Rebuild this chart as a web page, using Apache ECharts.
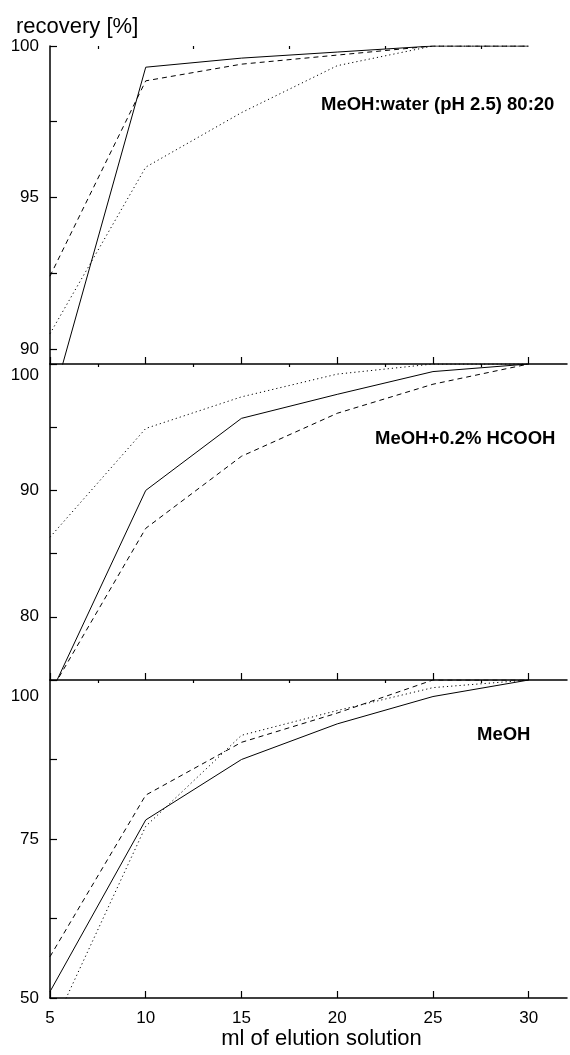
<!DOCTYPE html>
<html>
<head>
<meta charset="utf-8">
<script src="https://cdn.jsdelivr.net/npm/echarts@6/dist/echarts.min.js"></script>
<style>
  html, body { margin: 0; padding: 0; background: #fff; }
  #chart { width: 570px; height: 1055px; }
</style>
</head>
<body>
<div id="chart"></div>
<script>
// elution volume (ml)
const mlElution = [5, 10, 15, 20, 25, 30];
const xMajorTicks = [5, 10, 15, 20, 25, 30];
const xMinorTicks = [7.5, 12.5, 17.5, 22.5, 27.5];

// MeOH:water (pH 2.5) 80:20
const waterSolid = [88.0, 99.3, 99.6, 99.8, 100, 100];
const waterDashed = [92.4, 98.85, 99.4, 99.7, 100, 100];
const waterDotted = [90.5, 96.0, 97.8, 99.35, 100, 100];
const waterTicks = [90, 92.5, 95, 97.5, 100];
const waterLabels = [90, 95, 100];

// MeOH+0.2% HCOOH
const formicSolid = [73.8, 90.0, 95.7, 97.6, 99.4, 100];
const formicDashed = [74.0, 87.0, 92.7, 96.1, 98.4, 100];
const formicDotted = [86.3, 94.9, 97.4, 99.2, 100, 100];
const formicTicks = [80, 85, 90, 95, 100];
const formicLabels = [80, 90, 100];

// MeOH
const meohSolid = [51.0, 78.0, 87.5, 93.1, 97.4, 100];
const meohDashed = [56.5, 81.9, 90.2, 94.8, 100, 100];
const meohDotted = [44.5, 77.0, 91.3, 95.2, 98.8, 100];
const meohTicks = [50, 62.5, 75, 87.5, 100];
const meohLabels = [50, 75, 100];

const font = "'Liberation Sans', Arial, Helvetica, sans-serif";

const panels = [
  { top: 46, height: 318, min: 89.5, max: 100, ticks: waterTicks, labels: waterLabels, shift: 0,
    lines: [waterSolid, waterDashed, waterDotted] },
  { top: 364, height: 316, min: 75, max: 100, ticks: formicTicks, labels: formicLabels, shift: 22,
    lines: [formicSolid, formicDashed, formicDotted] },
  { top: 680, height: 318, min: 50, max: 100, ticks: meohTicks, labels: meohLabels, shift: 32,
    lines: [meohSolid, meohDashed, meohDotted] }
];
const lineTypes = ['solid', [5, 4], [1.2, 3]];
const lineNames = ['solid', 'dashed', 'dotted'];

const pairs = (ys) => mlElution.map((x, i) => [x, ys[i]]);

const grid = [];
const xAxis = [];
const yAxis = [];
const series = [];

panels.forEach((p, i) => {
  grid.push({ left: 50, width: 517, top: p.top, height: p.height, outerBoundsMode: 'none' });
  xAxis.push({
    gridIndex: i,
    type: 'value',
    min: 5,
    max: 32,
    axisLine: { show: true, lineStyle: { color: '#000', width: 1.5 } },
    axisTick: { show: true, inside: true, length: 7, customValues: xMajorTicks,
      lineStyle: { color: '#000', width: 1.2 } },
    axisLabel: { show: i === 2, customValues: xMajorTicks, margin: 12,
      color: '#000', fontSize: 17, fontFamily: font },
    splitLine: { show: false },
    name: i === 2 ? 'ml of elution solution' : '',
    nameLocation: 'middle',
    nameGap: 28,
    nameTextStyle: { color: '#000', fontSize: 22, fontFamily: font, padding: [0, 0, 0, 26] }
  });
  xAxis.push({
    gridIndex: i,
    type: 'value',
    min: 5,
    max: 32,
    axisLine: { show: false },
    axisTick: { show: true, inside: true, length: 3, customValues: xMinorTicks,
      lineStyle: { color: '#000', width: 1.2 } },
    axisLabel: { show: false },
    splitLine: { show: false }
  });
  yAxis.push({
    gridIndex: i,
    type: 'value',
    min: p.min,
    max: p.max,
    axisLine: { show: true, lineStyle: { color: '#000', width: 1.5 } },
    axisTick: { show: true, inside: true, length: 7, customValues: p.ticks,
      lineStyle: { color: '#000', width: 1.2 } },
    axisLabel: {
      customValues: p.labels,
      margin: 11,
      color: '#000',
      fontSize: 17,
      fontFamily: font,
      formatter: (v) => (v === 100 && p.shift ? '{low|100}' : String(v)),
      rich: { low: { padding: [p.shift, 0, 0, 0], fontSize: 17, fontFamily: font, color: '#000' } }
    },
    splitLine: { show: false }
  });
  p.lines.forEach((ys, k) => {
    series.push({
      name: lineNames[k],
      type: 'line',
      xAxisIndex: i * 2,
      yAxisIndex: i,
      data: pairs(ys),
      showSymbol: false,
      symbol: 'none',
      clip: true,
      lineStyle: { color: '#000', width: 1, type: lineTypes[k] }
    });
  });
});

const chart = echarts.init(document.getElementById('chart'));
chart.setOption({
  animation: false,
  backgroundColor: '#fff',
  title: [
    { text: 'recovery [%]', left: 11, top: 11,
      textStyle: { color: '#000', fontSize: 22, fontWeight: 'normal', fontFamily: font } },
    { text: 'MeOH:water (pH 2.5) 80:20', left: 316, top: 90,
      textStyle: { color: '#000', fontSize: 18.5, fontWeight: 'bold', fontFamily: font } },
    { text: 'MeOH+0.2% HCOOH', left: 370, top: 424,
      textStyle: { color: '#000', fontSize: 18.5, fontWeight: 'bold', fontFamily: font } },
    { text: 'MeOH', left: 472, top: 720,
      textStyle: { color: '#000', fontSize: 18.5, fontWeight: 'bold', fontFamily: font } }
  ],
  grid: grid,
  xAxis: xAxis,
  yAxis: yAxis,
  series: series
});
</script>
</body>
</html>
